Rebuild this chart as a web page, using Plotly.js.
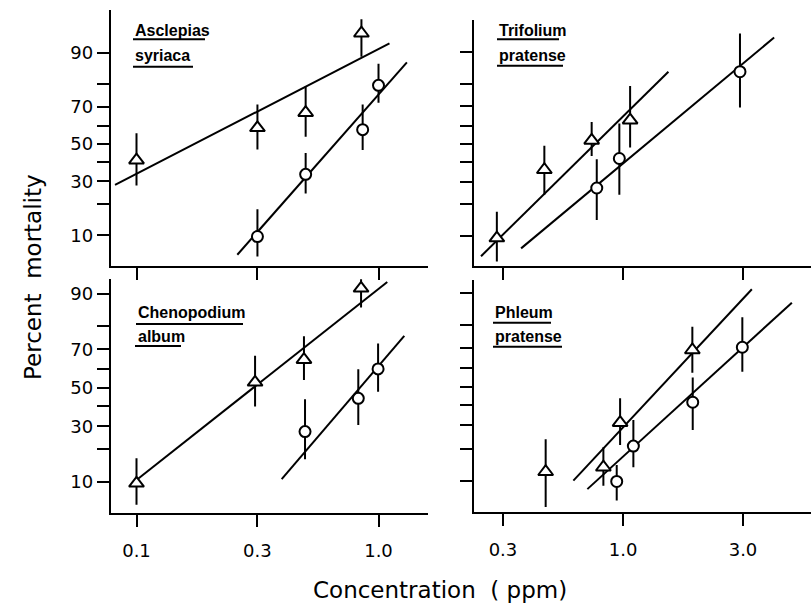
<!DOCTYPE html>
<html>
<head>
<meta charset="utf-8">
<script src="https://cdn.plot.ly/plotly-3.0.1.min.js"></script>
<style>html,body{margin:0;padding:0;background:#fff;}#chart{width:811px;height:607px;}</style>
</head>
<body>
<div id="chart"></div>
<script>
// ---------- DATA (concentration in ppm, mortality in percent) ----------
// Asclepias syriaca
const asclTriConc = [0.1, 0.316, 0.50, 0.85];
const asclTriPct  = [41, 59, 67, 94];
const asclTriLo   = [28, 47, 54, 89];
const asclTriHi   = [56, 71, 79, 96];
const asclCirConc = [0.316, 0.50, 0.86, 1.0];
const asclCirPct  = [9.7, 33.5, 58, 79.5];
const asclCirLo   = [5.7, 24.4, 46.6, 71.9];
const asclCirHi   = [18, 45, 71, 87];
const asclTriFitConc = [0.0815, 1.11];
const asclTriFitPct  = [28.3, 92.1];
const asclCirFitConc = [0.261, 1.31];
const asclCirFitPct  = [6.0, 87.4];

// Trifolium pratense
const trifTriConc = [0.298, 0.47, 0.74, 1.07];
const trifTriPct  = [9.5, 36, 52, 63];
const trifTriLo   = [5.1, 24, 43.4, 48];
const trifTriHi   = [17.3, 49, 62, 79];
const trifCirConc = [0.777, 0.965, 3.07];
const trifCirPct  = [27, 42, 84.3];
const trifCirLo   = [14.5, 24, 69.5];
const trifCirHi   = [41.6, 61.3, 93.8];
const trifTriFitConc = [0.256, 1.545];
const trifTriFitPct  = [5.9, 84.3];
const trifCirFitConc = [0.376, 4.26];
const trifCirFitPct  = [7.3, 93.1];

// Chenopodium album
const chenTriConc = [0.1, 0.309, 0.492, 0.847];
const chenTriPct  = [9.6, 53, 65, 91.3];
const chenTriLo   = [5.5, 40, 54.3, 86.4];
const chenTriHi   = [16.8, 67, 76, 95];
const chenCirConc = [0.497, 0.825, 0.996];
const chenCirPct  = [27.5, 44.3, 60.2];
const chenCirLo   = [16.5, 30.6, 47.9];
const chenCirHi   = [43.8, 60, 72.8];
const chenTriFitConc = [0.1, 1.087];
const chenTriFitPct  = [10.4, 92.6];
const chenCirFitConc = [0.398, 1.278];
const chenCirFitPct  = [10.6, 76.1];

// Phleum pratense
const phleTriConc = [0.476, 0.828, 0.972, 1.944];
const phleTriPct  = [12.4, 13.7, 31.3, 69.2];
const phleTriLo   = [5.1, 8.9, 21.4, 57.6];
const phleTriHi   = [23.8, 20.6, 43.8, 79.3];
const phleCirConc = [0.941, 1.104, 1.951, 3.14];
const phleCirPct  = [9.9, 21, 41.7, 70.5];
const phleCirLo   = [6.1, 13.7, 27.9, 58.2];
const phleCirHi   = [14.4, 32.6, 55, 82.8];
const phleTriFitConc = [0.621, 3.44];
const phleTriFitPct  = [10.1, 90.8];
const phleCirFitConc = [0.710, 5.05];
const phleCirFitPct  = [8.2, 87.4];

// Tick values / labels
const pctTicks      = [10, 20, 30, 40, 50, 60, 70, 80, 90];
const pctTickText   = ['10', '', '30', '', '50', '', '70', '', '90'];
const leftConcTicks = [0.1, 0.316, 1.0];
const leftConcText  = ['0.1', '0.3', '1.0'];
const rightConcTicks = [0.316, 1.0, 3.16];
const rightConcText  = ['0.3', '1.0', '3.0'];

const speciesGenus   = ['Asclepias', 'Trifolium', 'Chenopodium', 'Phleum'];
const speciesEpithet = ['syriaca', 'pratense', 'album', 'pratense'];
const xTitle = 'Concentration\u00A0\u00A0(\u00A0ppm)';
const yTitle = 'Percent\u00A0\u00A0mortality';

// ---------- probit (inverse normal CDF) ----------
function probit(p) {
  const a=[-3.969683028665376e+01,2.209460984245205e+02,-2.759285104469687e+02,1.383577518672690e+02,-3.066479806614716e+01,2.506628277459239e+00];
  const b=[-5.447609879822406e+01,1.615858368580409e+02,-1.556989798598866e+02,6.680131188771972e+01,-1.328068155288572e+01];
  const c=[-7.784894002430293e-03,-3.223964580411365e-01,-2.400758277161838e+00,-2.549732139037443e+00,4.374664141464968e+00,2.938163982698783e+00];
  const d=[7.784695709041462e-03,3.224671290700398e-01,2.445134137142996e+00,3.754408661907416e+00];
  const plow=0.02425, phigh=1-plow;
  let q, r;
  if (p < plow) { q=Math.sqrt(-2*Math.log(p)); return (((((c[0]*q+c[1])*q+c[2])*q+c[3])*q+c[4])*q+c[5])/((((d[0]*q+d[1])*q+d[2])*q+d[3])*q+1); }
  if (p > phigh) { q=Math.sqrt(-2*Math.log(1-p)); return -(((((c[0]*q+c[1])*q+c[2])*q+c[3])*q+c[4])*q+c[5])/((((d[0]*q+d[1])*q+d[2])*q+d[3])*q+1); }
  q=p-0.5; r=q*q;
  return (((((a[0]*r+a[1])*r+a[2])*r+a[3])*r+a[4])*r+a[5])*q/(((((b[0]*r+b[1])*r+b[2])*r+b[3])*r+b[4])*r+1);
}
const pr = v => probit(v / 100);

// ---------- traces ----------
const panels = [
  {xa:'x',  ya:'y',  tc:asclTriConc, tp:asclTriPct, tl:asclTriLo, th:asclTriHi, cc:asclCirConc, cp:asclCirPct, cl:asclCirLo, ch:asclCirHi,
   tfc:asclTriFitConc, tfp:asclTriFitPct, cfc:asclCirFitConc, cfp:asclCirFitPct},
  {xa:'x2', ya:'y2', tc:trifTriConc, tp:trifTriPct, tl:trifTriLo, th:trifTriHi, cc:trifCirConc, cp:trifCirPct, cl:trifCirLo, ch:trifCirHi,
   tfc:trifTriFitConc, tfp:trifTriFitPct, cfc:trifCirFitConc, cfp:trifCirFitPct},
  {xa:'x3', ya:'y3', tc:chenTriConc, tp:chenTriPct, tl:chenTriLo, th:chenTriHi, cc:chenCirConc, cp:chenCirPct, cl:chenCirLo, ch:chenCirHi,
   tfc:chenTriFitConc, tfp:chenTriFitPct, cfc:chenCirFitConc, cfp:chenCirFitPct},
  {xa:'x4', ya:'y4', tc:phleTriConc, tp:phleTriPct, tl:phleTriLo, th:phleTriHi, cc:phleCirConc, cp:phleCirPct, cl:phleCirLo, ch:phleCirHi,
   tfc:phleTriFitConc, tfp:phleTriFitPct, cfc:phleCirFitConc, cfp:phleCirFitPct}
];

const traces = [];
panels.forEach(P => {
  [[P.tfc, P.tfp], [P.cfc, P.cfp]].forEach(([xc, yp]) => {
    traces.push({type:'scatter', mode:'lines', xaxis:P.xa, yaxis:P.ya,
      x:xc, y:yp.map(pr), line:{color:'#000', width:2}, hoverinfo:'skip'});
  });
});
panels.forEach(P => {
  const mk = (xc, yp, lo, hi, sym, sz) => ({
    type:'scatter', mode:'markers', xaxis:P.xa, yaxis:P.ya, cliponaxis:false,
    x:xc, y:yp.map(pr),
    error_y:{type:'data', symmetric:false, visible:true,
      array: hi.map((h,i) => pr(h) - pr(yp[i])),
      arrayminus: lo.map((l,i) => pr(yp[i]) - pr(l)),
      width:0, thickness:2, color:'#000'},
    marker:{symbol:sym, size:sz, color:'#fff', line:{color:'#000', width:2}}
  });
  traces.push(mk(P.tc, P.tp, P.tl, P.th, 'triangle-up', 13));
  traces.push(mk(P.cc, P.cp, P.cl, P.ch, 'circle', 11));
});

// ---------- layout ----------
const W = 811, H = 607;
const px = v => v / W;
const py = v => (H - v) / H;
const tickFont = {family:'DejaVu Sans, sans-serif', size:18, color:'#000'};

function xAx(domain, range, tv, tt, showLab, anchor) {
  return {type:'log', domain, range, anchor, tickmode:'array', tickvals:tv, ticktext:tt,
    showticklabels:showLab, ticks:'outside', ticklen:12, tickwidth:2, tickcolor:'#000',
    showline:true, linewidth:2, linecolor:'#000', showgrid:false, zeroline:false,
    tickfont:tickFont, ticklabelstandoff:8, fixedrange:true};
}
function yAx(domain, range, showLab, anchor) {
  return {domain, range, anchor, tickmode:'array', tickvals:pctTicks.map(pr), ticktext:pctTickText,
    showticklabels:showLab, ticks:'outside', ticklen:12, tickwidth:2, tickcolor:'#000',
    showline:true, linewidth:2, linecolor:'#000', showgrid:false, zeroline:false,
    tickfont:tickFont, fixedrange:true};
}

const xL = [px(110.7), px(428)], xR = [px(474), 1.0];
const layout = {
  width:W, height:H, margin:{l:0, r:0, t:0, b:0},
  paper_bgcolor:'#fff', plot_bgcolor:'rgba(0,0,0,0)', showlegend:false,
  xaxis:  xAx(xL, [-1.1066, 0.2045], leftConcTicks, leftConcText, false, 'y'),
  yaxis:  yAx([py(265.7), py(10)], [-1.708, 1.881], true, 'x'),
  xaxis2: xAx(xR, [-0.621, 0.783], rightConcTicks, rightConcText, false, 'y2'),
  yaxis2: yAx([py(265.7), py(20)], [-1.695, 1.727], false, 'x2'),
  xaxis3: xAx(xL, [-1.1066, 0.2045], leftConcTicks, leftConcText, true, 'y3'),
  yaxis3: yAx([py(513.3), py(279.3)], [-1.714, 1.483], true, 'x3'),
  xaxis4: xAx(xR, [-0.621, 0.783], rightConcTicks, rightConcText, true, 'y4'),
  yaxis4: yAx([py(512.3), py(280)], [-1.707, 1.454], false, 'x4'),
  annotations: [],
  shapes: []
};

// axis titles
layout.annotations.push({xref:'paper', yref:'paper', x:px(440), y:py(590), text:xTitle, showarrow:false,
  xanchor:'center', yanchor:'middle', font:{family:'DejaVu Sans, sans-serif', size:23, color:'#000'}});
layout.annotations.push({xref:'paper', yref:'paper', x:px(33), y:py(277), text:yTitle, showarrow:false,
  textangle:-90, xanchor:'center', yanchor:'middle', font:{family:'DejaVu Sans, sans-serif', size:23, color:'#000'}});

// species labels (text + underline rule)
const labelPos = [
  {x:133, y1:30, u1:[133,205,39.3], y2:55.5, u2:[133,193,66.7]},
  {x:497, y1:30, u1:[497,559,39.3], y2:55, u2:[497,563,65.7]},
  {x:136, y1:312.5, u1:[136,243,324], y2:336.5, u2:[135,181,346]},
  {x:493, y1:312.5, u1:[493,551,322.7], y2:336.5, u2:[493,562,346.7]}
];
const labFont = {family:'Liberation Sans, Arial, sans-serif', size:16, color:'#000', weight:'bold'};
labelPos.forEach((L, i) => {
  layout.annotations.push({xref:'paper', yref:'paper', x:px(L.x), y:py(L.y1), text:speciesGenus[i],
    showarrow:false, xanchor:'left', yanchor:'middle', font:labFont});
  layout.annotations.push({xref:'paper', yref:'paper', x:px(L.x), y:py(L.y2), text:speciesEpithet[i],
    showarrow:false, xanchor:'left', yanchor:'middle', font:labFont});
  [L.u1, L.u2].forEach(u => layout.shapes.push({type:'line', xref:'paper', yref:'paper',
    x0:px(u[0]), x1:px(u[1]), y0:py(u[2]), y1:py(u[2]), line:{color:'#000', width:2}}));
});

Plotly.newPlot('chart', traces, layout, {staticPlot:true, displayModeBar:false});
</script>
</body>
</html>
